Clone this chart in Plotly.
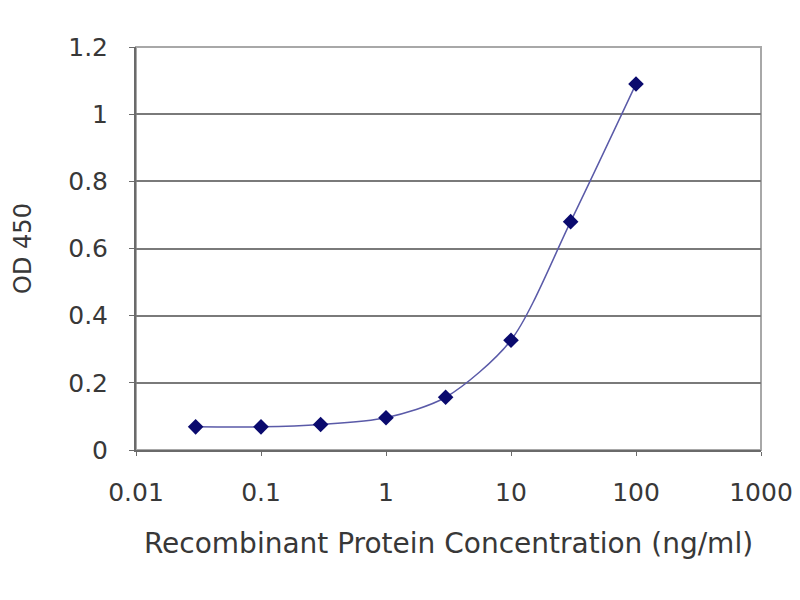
import plotly.graph_objects as go

# concentration (ng/ml) and OD 450 readings
conc = [0.03, 0.1, 0.3, 1, 3, 10, 30, 100]
od450 = [0.069, 0.069, 0.076, 0.096, 0.157, 0.327, 0.68, 1.09]

x_ticks = [0.01, 0.1, 1, 10, 100, 1000]
x_tick_text = ["0.01", "0.1", "1", "10", "100", "1000"]

fig = go.Figure()
fig.add_trace(go.Scatter(
    x=conc,
    y=od450,
    mode="lines+markers",
    line=dict(color="#5a5aa8", width=1.5, shape="spline", smoothing=0.8),
    marker=dict(symbol="diamond", size=12, color="#0a0a6e"),
    showlegend=False,
))

tick_font = dict(family="DejaVu Sans, Verdana, sans-serif", size=25, color="#383838")
title_font = dict(family="DejaVu Sans, Verdana, sans-serif", size=28, color="#383838")

fig.update_layout(
    width=800,
    height=600,
    margin=dict(l=128, r=47, t=39, b=158),
    paper_bgcolor="white",
    plot_bgcolor="white",
    font=tick_font,
    # light frame for the top and right edges
    shapes=[dict(type="rect", xref="paper", yref="paper", x0=0, y0=0, x1=1, y1=1,
                 line=dict(color="#a8a8a8", width=2), layer="below")],
)

fig.update_xaxes(
    type="log",
    range=[-2, 3],
    tickvals=x_ticks,
    ticktext=x_tick_text,
    showgrid=False,
    zeroline=False,
    showline=True,
    linecolor="#6a6a6a",
    linewidth=2,
    ticks="outside",
    ticklen=4,
    tickcolor="#6a6a6a",
    tickfont=tick_font,
    ticklabelstandoff=15,
    title=dict(text="Recombinant Protein Concentration (ng/ml)", font=title_font, standoff=27),
)

fig.update_yaxes(
    range=[0, 1.2],
    dtick=0.2,
    showgrid=True,
    gridcolor="#7a7a7a",
    gridwidth=2,
    zeroline=False,
    showline=True,
    linecolor="#6a6a6a",
    linewidth=2,
    ticks="outside",
    ticklen=5,
    tickcolor="#6a6a6a",
    tickfont=tick_font,
    ticklabelstandoff=16,
    title=dict(text="OD 450", font=dict(family="DejaVu Sans, Verdana, sans-serif", size=24, color="#383838"), standoff=30),
)

fig.write_html("out.html")
